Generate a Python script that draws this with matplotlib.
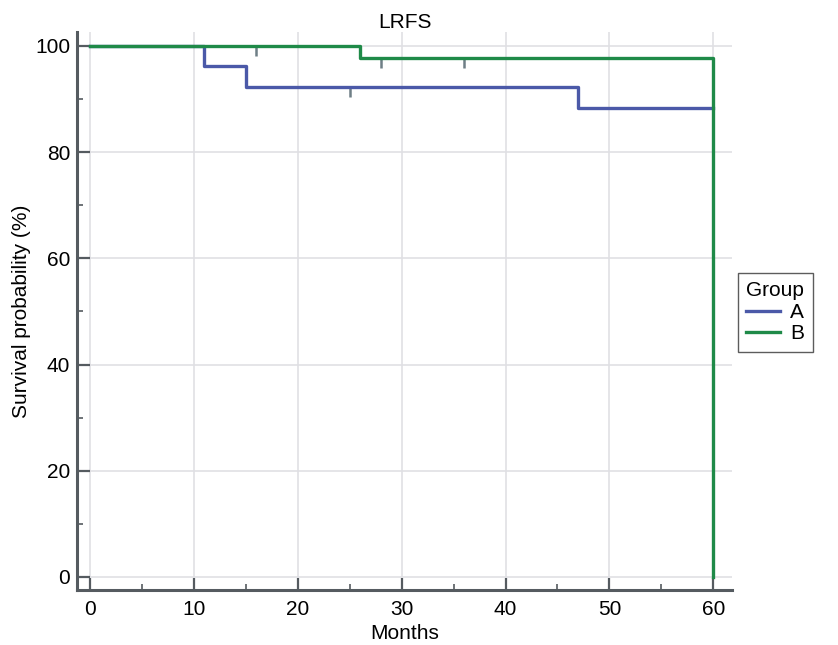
import matplotlib.pyplot as plt
from matplotlib.ticker import MultipleLocator

plt.rcParams["font.family"] = ["Liberation Sans", "DejaVu Sans"]

# Kaplan-Meier steps
group_labels = ["A", "B"]
group_colors = ["#4b59a8", "#1f8a48"]
a_times = [0, 11, 15, 47, 60]
a_surv = [100, 96.2, 92.3, 88.3, 88.3]
b_times = [0, 26, 60, 60]
b_surv = [100, 97.7, 97.7, 0]

# censored observations
a_cens_t = [25]
a_cens_s = [92.3]
b_cens_t = [16, 28, 36]
b_cens_s = [100, 97.7, 97.7]

x_ticks = [0, 10, 20, 30, 40, 50, 60]
y_ticks = [0, 20, 40, 60, 80, 100]

fig = plt.figure(figsize=(8.38, 6.45), dpi=100)
ax = fig.add_axes([77 / 838, 1 - 590 / 645, (732 - 77) / 838, (590 - 32) / 645])

ax.grid(True, color="#e0e0e4", linewidth=1.2)
ax.set_axisbelow(True)

series = [(a_times, a_surv, a_cens_t, a_cens_s), (b_times, b_surv, b_cens_t, b_cens_s)]
for (t, s, ct, cs), lab, col in zip(series, group_labels, group_colors):
    ax.step(t, s, where="post", color=col, linewidth=2.4, label=lab, zorder=3)
    ax.vlines(ct, [v - 1.9 for v in cs], cs, color="#6f7f86", linewidth=1.8, zorder=2.5)

ax.set_xlim(-1.25, 61.8)
ax.set_ylim(-2.45, 102.6)
ax.set_xticks(x_ticks)
ax.set_yticks(y_ticks)
ax.xaxis.set_minor_locator(MultipleLocator(5))
ax.yaxis.set_minor_locator(MultipleLocator(10))
ax.tick_params(which="major", direction="in", length=9, width=1.6, color="#555b60",
               labelsize=15, pad=5)
ax.tick_params(axis="x", which="major", pad=7)
ax.tick_params(which="minor", direction="in", length=4.5, width=1.2, color="#555b60")

for side in ["top", "right"]:
    ax.spines[side].set_visible(False)
for side in ["left", "bottom"]:
    ax.spines[side].set_color("#555b60")
    ax.spines[side].set_linewidth(2.2)

ax.set_title("LRFS", fontsize=15, pad=1)
ax.set_xlabel("Months", fontsize=15, labelpad=4)
ax.set_ylabel("Survival probability (%)", fontsize=15, labelpad=3)

leg = fig.legend(title="Group", loc="upper left", bbox_to_anchor=(738 / 838, 1 - 273 / 645),
                 fontsize=15, title_fontsize=15, frameon=True, fancybox=False,
                 handlelength=1.6, handletextpad=0.5, labelspacing=0.12,
                 borderpad=0.4, borderaxespad=0)
leg.get_frame().set_edgecolor("#333333")
leg.get_frame().set_linewidth(1.0)
leg._legend_box.align = "left"

fig.savefig("out.png", dpi=100)
